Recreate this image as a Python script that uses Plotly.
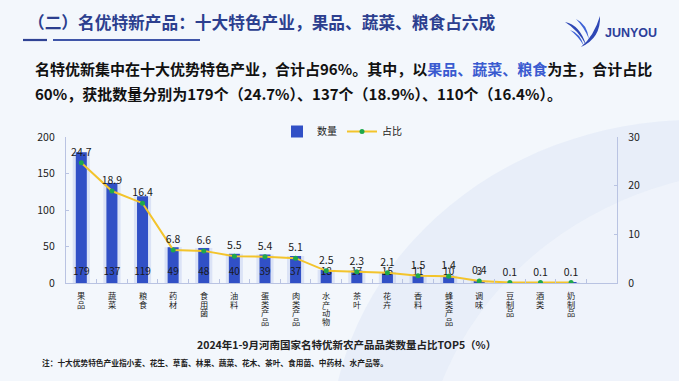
import plotly.graph_objects as go

# ---------------- data ----------------
categories = ["果品", "蔬菜", "粮食", "药材", "食用菌", "油料", "蛋类产品", "肉类产品",
              "水产动物", "茶叶", "花卉", "香料", "蜂类产品", "调味", "豆制品", "酒类", "奶制品"]
counts = [179, 137, 119, 49, 48, 40, 39, 37, 18, 17, 15, 11, 10, 3, 1, 1, 1]
shares = [24.7, 18.9, 16.4, 6.8, 6.6, 5.5, 5.4, 5.1, 2.5, 2.3, 2.1, 1.5, 1.4, 0.4, 0.1, 0.1, 0.1]
count_labels = ["179", "137", "119", "49", "48", "40", "39", "37", "18", "17", "15", "11", "10", "3", "", "", ""]
left_ticks = [0, 50, 100, 150, 200]
right_ticks = [0, 10, 20, 30]

FONT = "Noto Sans CJK SC"
W, H = 679, 381
L, R, T, B = 66, 62, 137, 98
PW, PH = W - L - R, H - T - B


def px(x):
    return (x - L) / PW


def py(y):
    return 1 - (y - T) / PH


fig = go.Figure()

# soft glow behind bars
fig.add_trace(go.Bar(x=categories, y=counts, width=0.56, marker_color="rgba(60,90,210,0.13)",
                     marker_line_width=0, showlegend=False, hoverinfo="skip"))
fig.add_trace(go.Bar(x=categories, y=counts, width=0.36, name="数量", marker_color="#3150c6",
                     marker_line_width=0))
# count labels at bar base
fig.add_trace(go.Scatter(x=categories, y=[14] * len(categories), mode="text", text=count_labels,
                         textfont=dict(size=10, color="#1a1a1a", family=FONT), showlegend=False,
                         hoverinfo="skip"))
fig.add_trace(go.Scatter(x=categories, y=shares, yaxis="y2", name="占比", mode="lines+markers+text",
                         text=[f"{v:.1f}" for v in shares], textposition="top center",
                         textfont=dict(size=10.5, color="#1a1a1a", family=FONT),
                         line=dict(color="#f3c42c", width=2),
                         marker=dict(color="#1ea84b", size=5)))

axis_line = "#b9c3e2"
fig.update_layout(
    width=W, height=H,
    margin=dict(l=L, r=R, t=T, b=B, autoexpand=False),
    paper_bgcolor="#f3f7fc", plot_bgcolor="rgba(0,0,0,0)",
    font=dict(family=FONT, color="#222"),
    barmode="overlay",
    xaxis=dict(range=[-0.5, 17.5], showticklabels=False, showline=True, linecolor=axis_line,
               linewidth=1.3, ticks="inside", tickson="boundaries", ticklen=4, tickcolor=axis_line,
               showgrid=False, zeroline=False, fixedrange=True),
    yaxis=dict(range=[0, 200], tickvals=left_ticks, showline=True, linecolor=axis_line, linewidth=1.3,
               ticks="inside", ticklen=3, tickcolor=axis_line, showgrid=False, zeroline=False,
               tickfont=dict(size=10.5, color="#222"), ticklabelstandoff=8),
    yaxis2=dict(range=[0, 30], tickvals=right_ticks, overlaying="y", side="right", showline=True,
                linecolor=axis_line, linewidth=1.3, ticks="inside", ticklen=3, tickcolor=axis_line,
                showgrid=False, zeroline=False, tickfont=dict(size=10.5, color="#222"),
                ticklabelstandoff=8),
    legend=dict(orientation="h", x=px(342), y=py(117), xanchor="center", yanchor="top",
                font=dict(size=10, color="#222"), bgcolor="rgba(0,0,0,0)", itemwidth=30,
                traceorder="normal", tracegroupgap=0),
    showlegend=True,
)

# background decoration
shapes = [
    dict(type="circle", xref="paper", yref="paper", x0=px(330), x1=px(1060), y0=py(780), y1=py(120),
         fillcolor="rgba(214,225,245,0.4)", line_width=0, layer="below"),
    dict(type="circle", xref="paper", yref="paper", x0=px(420), x1=px(1120), y0=py(820), y1=py(170),
         fillcolor="rgba(243,247,252,0.6)", line_width=0, layer="below"),
    # title underline
    dict(type="line", xref="paper", yref="paper", x0=px(23), x1=px(47), y0=py(40), y1=py(40),
         line=dict(color="#2f4394", width=2.2)),
    dict(type="line", xref="paper", yref="paper", x0=px(53), x1=px(200), y0=py(40), y1=py(40),
         line=dict(color="#3f55a8", width=2.2)),
]


# logo swooshes
def logo_path(points):
    s = ""
    for cmd, coords in points:
        s += cmd + " " + " ".join(f"{px(a):.5f},{py(b):.5f}" for a, b in coords) + " "
    return s + "Z"


logo_color = "#2e47b5"
shapes.append(dict(type="path", xref="paper", yref="paper", line_width=0, fillcolor=logo_color,
                   path=logo_path([("M", [(565, 22)]), ("Q", [(580, 25), (586, 45)]),
                                   ("Q", [(578, 30), (565, 22)])])))
shapes.append(dict(type="path", xref="paper", yref="paper", line_width=0, fillcolor="#3f63d6",
                   path=logo_path([("M", [(570, 30)]), ("Q", [(580, 33), (584, 46)]),
                                   ("Q", [(578, 36), (570, 30)])])))
shapes.append(dict(type="path", xref="paper", yref="paper", line_width=0, fillcolor=logo_color,
                   path=logo_path([("M", [(581, 47)]), ("Q", [(601, 38), (600, 16)]),
                                   ("Q", [(594, 36), (581, 47)])])))
shapes.append(dict(type="path", xref="paper", yref="paper", line_width=0, fillcolor="#3f63d6",
                   path=logo_path([("M", [(576, 19)]), ("Q", [(587, 24), (589, 39)]),
                                   ("Q", [(584, 27), (576, 19)])])))
fig.update_layout(shapes=shapes)

ann = []
ann.append(dict(x=px(26), y=py(22), xref="paper", yref="paper", xanchor="left", yanchor="middle",
                showarrow=False, text="<b>（二）名优特新产品：十大特色产业，果品、蔬菜、粮食占六成</b>",
                font=dict(size=16.7, color="#2c3f8f", family=FONT)))
ann.append(dict(x=px(603), y=py(33), xref="paper", yref="paper", xanchor="left", yanchor="middle",
                showarrow=False, text="<b>JUNYOU</b>",
                font=dict(size=12.5, color="#2c3f9a", family="Liberation Sans")))
ann.append(dict(x=px(33), y=py(68), xref="paper", yref="paper", xanchor="left", yanchor="middle",
                showarrow=False,
                text="<b>名特优新集中在十大优势特色产业，合计占96%。其中，以"
                     "<span style='color:#3a5bd0'>果品、蔬菜、粮食</span>为主，合计占比</b>",
                font=dict(size=15, color="#111", family=FONT)))
ann.append(dict(x=px(33), y=py(93), xref="paper", yref="paper", xanchor="left", yanchor="middle",
                showarrow=False,
                text="<b>60%，获批数量分别为179个（24.7%）、137个（18.9%）、110个（16.4%）。</b>",
                font=dict(size=15, color="#111", family=FONT)))
# vertical category labels, one character per line
for c in categories:
    for j, ch in enumerate(c):
        ann.append(dict(x=c, y=0, xref="x", yref="paper", xanchor="center", yanchor="top",
                        yshift=-4 - j * 8.7, showarrow=False, text=ch,
                        font=dict(size=8.2, color="#222", family=FONT)))
ann.append(dict(x=px(346), y=py(344), xref="paper", yref="paper", xanchor="center", yanchor="middle",
                showarrow=False, text="<b>2024年1-9月河南国家名特优新农产品品类数量占比TOP5（%）</b>",
                font=dict(size=10.5, color="#222", family=FONT)))
ann.append(dict(x=px(40), y=py(362), xref="paper", yref="paper", xanchor="left", yanchor="middle",
                showarrow=False,
                text="<b>注：十大优势特色产业指小麦、花生、草畜、林果、蔬菜、花木、茶叶、食用菌、中药材、水产品等。</b>",
                font=dict(size=7.7, color="#222", family=FONT)))
fig.update_layout(annotations=ann)

fig.write_html("out.html", config={"displayModeBar": False},
               post_script="document.body.style.margin='0px';")
